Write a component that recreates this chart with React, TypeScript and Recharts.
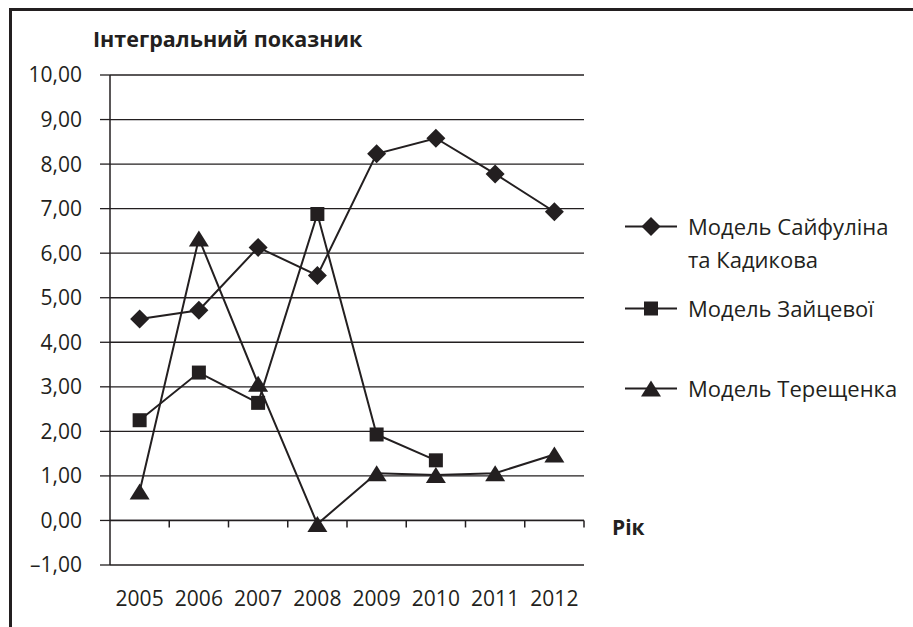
import { LineChart, Line, XAxis, YAxis, CartesianGrid, ReferenceLine, Legend } from 'recharts';

const INK = '#231f20';
const FONT = '"Open Sans", "Noto Sans", sans-serif';

// years on the x axis
const years = ['2005', '2006', '2007', '2008', '2009', '2010', '2011', '2012'];

// integral index per model
const saifulinKadykov = [4.52, 4.72, 6.13, 5.5, 8.23, 8.58, 7.78, 6.93];
const zaitseva = [2.25, 3.32, 2.64, 6.88, 1.93, 1.35, null, null];
const tereshchenko = [0.65, 6.33, 3.07, -0.08, 1.06, 1.02, 1.06, 1.48];

const yTicks = [-1, 0, 1, 2, 3, 4, 5, 6, 7, 8, 9, 10];

const seriesKeys = ['saif', 'zait', 'ter'];
const seriesNames = {
  saif: 'Модель Сайфуліна та Кадикова',
  zait: 'Модель Зайцевої',
  ter: 'Модель Терещенка',
};

const data = years.map((year, i) => ({
  year,
  saif: saifulinKadykov[i],
  zait: zaitseva[i],
  ter: tereshchenko[i],
}));

const fmt = (v: number) => v.toFixed(2).replace('.', ',').replace('-', '–');

type MarkerKind = 'diamond' | 'square' | 'triangle';

const markerPath = (kind: MarkerKind, cx: number, cy: number) => {
  if (kind === 'diamond') {
    const r = 9.5;
    return `M${cx},${cy - r}L${cx + r},${cy}L${cx},${cy + r}L${cx - r},${cy}Z`;
  }
  if (kind === 'square') {
    const h = 7;
    return `M${cx - h},${cy - h}H${cx + h}V${cy + h}H${cx - h}Z`;
  }
  return `M${cx},${cy - 8}L${cx + 10},${cy + 8}L${cx - 10},${cy + 8}Z`;
};

const makeDot = (kind: MarkerKind) => (props: any) => {
  const { cx, cy, index } = props;
  if (cx == null || cy == null || Number.isNaN(cy)) return <g key={`${kind}-${index}`} />;
  return <path key={`${kind}-${index}`} d={markerPath(kind, cx, cy)} fill={INK} />;
};

const markerOf: Record<string, MarkerKind> = { saif: 'diamond', zait: 'square', ter: 'triangle' };
const legendGaps = [16, 47, 0];

const renderLegend = ({ payload }: any) => {
  // keep the series order (recharts sorts legend items by name otherwise)
  const items = [...(payload || [])].sort(
    (a: any, b: any) => seriesKeys.indexOf(a.dataKey) - seriesKeys.indexOf(b.dataKey)
  );
  return (
    <div style={{ fontFamily: FONT, fontSize: 22, color: INK }}>
      {items.map((entry: any, i: number) => (
        <div key={entry.value} style={{ display: 'flex', alignItems: 'flex-start', marginBottom: legendGaps[i] }}>
          <svg width={52} height={33} style={{ flex: 'none' }}>
            <line x1={0} x2={52} y1={16.5} y2={16.5} stroke={INK} strokeWidth={2} />
            <path d={markerPath(markerOf[entry.dataKey], 26, 16.5)} fill={INK} />
          </svg>
          <span style={{ marginLeft: 11, lineHeight: '33px', width: 215 }}>{entry.value}</span>
        </div>
      ))}
    </div>
  );
};

// zero line with category boundary ticks, as on the original x axis
const ZeroAxis = (props: any) => {
  const { x1, y1, x2, y2 } = props;
  const step = (x2 - x1) / years.length;
  return (
    <g>
      <line x1={x1} y1={y1} x2={x2} y2={y2} stroke={INK} strokeWidth={1.5} />
      {years.map((y, i) => (
        <line key={y} x1={x1 + step * (i + 1)} x2={x1 + step * (i + 1)} y1={y1} y2={y1 + 7} stroke={INK} strokeWidth={1.5} />
      ))}
    </g>
  );
};

const AxisTitle = (props: any) => {
  const { viewBox } = props;
  return (
    <text x={viewBox.x + viewBox.width - 17} y={viewBox.y - 28} fill={INK} fontFamily={FONT} fontSize={21.5} fontWeight={700}>
      Інтегральний показник
    </text>
  );
};

export default function App() {
  return (
    <div style={{ position: 'absolute', left: 0, top: 0, width: 913, height: 627, overflow: 'hidden', background: '#fff' }}>
      {/* page frame: only the top and left edges are visible in the crop */}
      <div style={{ position: 'absolute', left: 9, top: 8, width: 904, height: 3, background: INK }} />
      <div style={{ position: 'absolute', left: 9, top: 8, width: 3, height: 619, background: INK }} />
      <LineChart
        width={913}
        height={627}
        data={data}
        margin={{ top: 75, right: 44, bottom: 22, left: 0 }}
        style={{ position: 'absolute', left: 0, top: 0, fontFamily: FONT }}
      >
        <CartesianGrid horizontal vertical={false} stroke={INK} strokeWidth={1.3} />
        <XAxis
          dataKey="year"
          scale="band"
          axisLine={false}
          tickLine={false}
          tickSize={0}
          tickMargin={26}
          height={40}
          tick={{ fill: INK, fontSize: 21, fontFamily: FONT }}
          interval={0}
        />
        <YAxis
          domain={[-1, 10]}
          ticks={yTicks}
          tickFormatter={fmt}
          width={110}
          tickSize={10}
          tickMargin={18}
          axisLine={{ stroke: INK, strokeWidth: 1.5 }}
          tickLine={{ stroke: INK, strokeWidth: 1.3 }}
          tick={{ fill: INK, fontSize: 21, fontFamily: FONT }}
          label={{ content: AxisTitle }}
        />
        <ReferenceLine
          y={0}
          shape={ZeroAxis}
          label={{ value: 'Рік', position: 'right', offset: 28, fill: INK, fontSize: 21, fontWeight: 700, dy: 7 }}
        />
        <Legend
          layout="vertical"
          align="right"
          verticalAlign="top"
          width={285}
          wrapperStyle={{ left: 625, top: 210 }}
          content={renderLegend}
        />
        <Line dataKey="saif" name={seriesNames.saif} stroke={INK} strokeWidth={2} dot={makeDot('diamond')} isAnimationActive={false} />
        <Line dataKey="zait" name={seriesNames.zait} stroke={INK} strokeWidth={2} dot={makeDot('square')} isAnimationActive={false} />
        <Line dataKey="ter" name={seriesNames.ter} stroke={INK} strokeWidth={2} dot={makeDot('triangle')} isAnimationActive={false} />
      </LineChart>
    </div>
  );
}
